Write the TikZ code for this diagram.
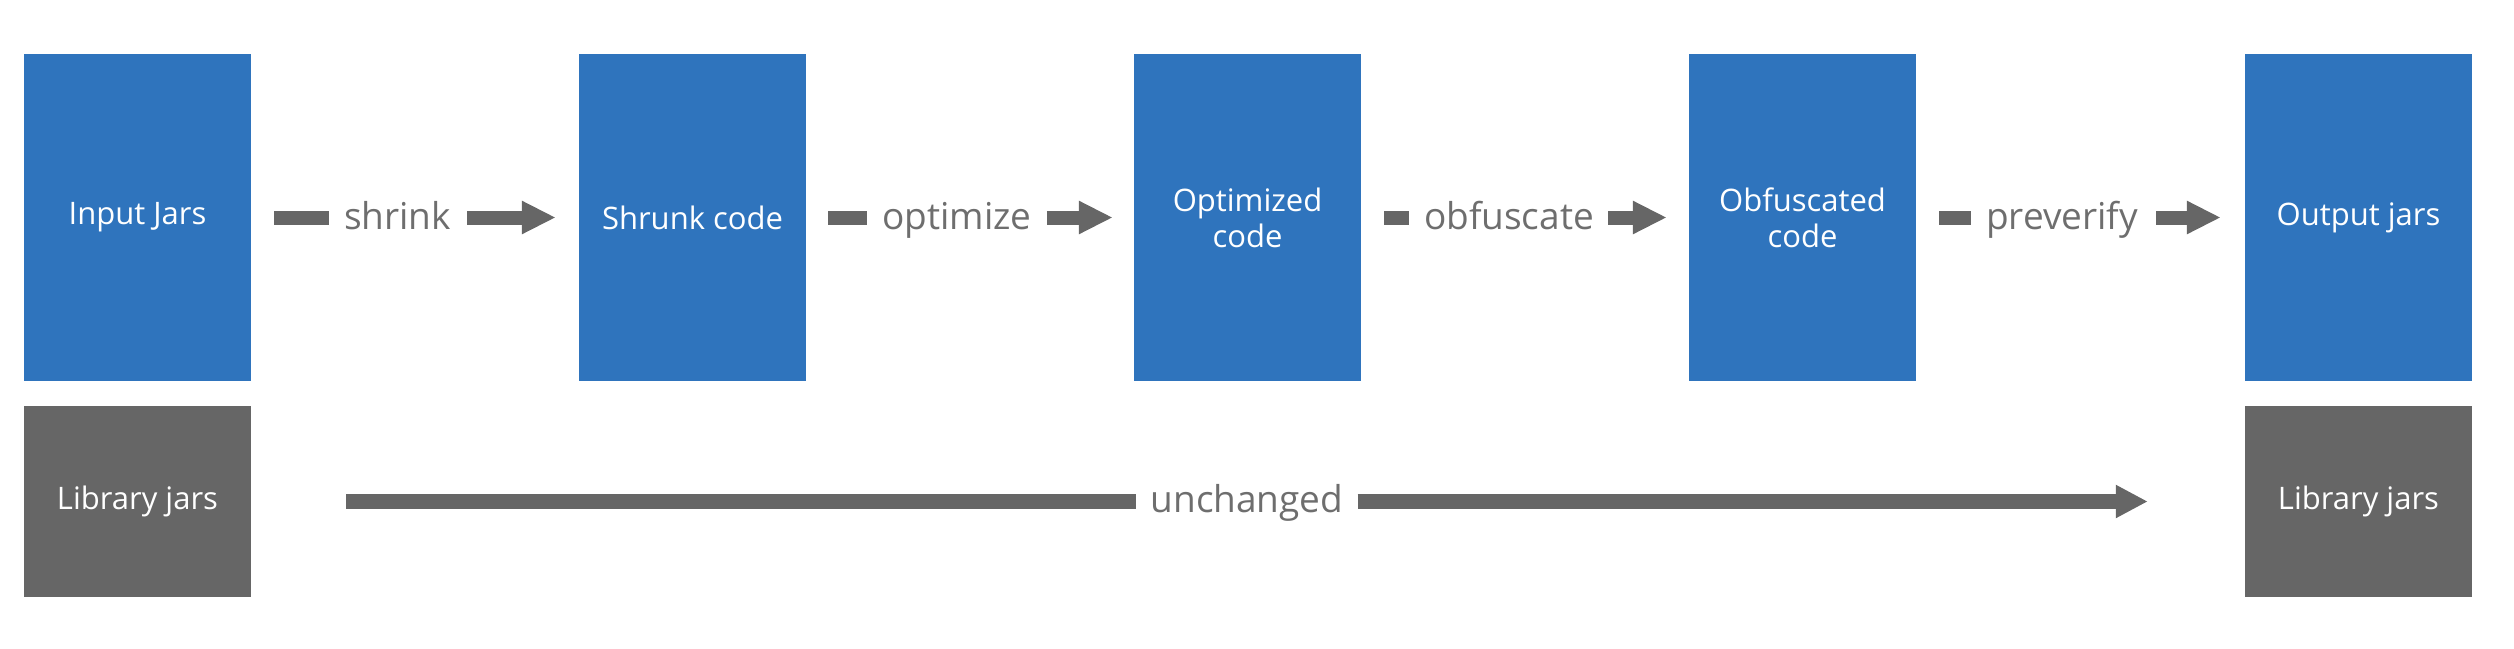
\documentclass[tikz,border=0pt]{standalone}
\usepackage{fontspec}
\setmainfont{Open Sans}
\usetikzlibrary{arrows.meta}
\definecolor{boxblue}{RGB}{47,116,189}
\definecolor{libgray}{RGB}{102,102,102}
\definecolor{lblgray}{RGB}{110,110,110}
\begin{document}
\begin{tikzpicture}[x=1pt,y=-1pt,
  bluebox/.style={fill=boxblue, minimum width=227pt, minimum height=327pt, inner sep=0pt, text=white, align=center, font=\fontsize{31}{36}\selectfont},
  graybox/.style={fill=libgray, minimum width=227pt, minimum height=191pt, inner sep=0pt, text=white, align=center, font=\fontsize{31}{36}\selectfont},
  lbl/.style={text=lblgray, font=\fontsize{37}{40}\selectfont, inner sep=0pt, anchor=base},
  bar/.style={draw=libgray, line width=14pt},
  arr/.style={bar, -{Triangle[length=34pt,width=31pt]}},
  longarr/.style={draw=libgray, line width=15pt, -{Triangle[length=32pt,width=31pt]}}
]
\useasboundingbox (0,0) rectangle (2514,648);
% blue boxes
\node[bluebox] (in)  at (137.5,217.5) {Input Jars};
\node[bluebox] (shr) at (692.5,217.5) {Shrunk code};
\node[bluebox] (opt) at (1247.5,217.5) {Optimized\\code};
\node[bluebox] (obf) at (1802.5,217.5) {Obfuscated\\code};
\node[bluebox] (out) at (2358.5,217.5) {Output jars};
% library boxes
\node[graybox] (lib1) at (137.5,501.5) {Library jars};
\node[graybox] (lib2) at (2358.5,501.5) {Library jars};
% labels
\node[lbl] (l1) at (397.5,229) {shrink};
\node[lbl] (l2) at (957,229) {optimize};
\node[lbl] (l3) at (1509,229) {obfuscate};
\node[lbl] (l4) at (2062,229) {preverify};
\node[lbl] (l5) at (1247,512) {unchanged};
% connectors
\coordinate (a1) at ([xshift=23pt]in.east);
\draw[bar] (a1) -- ([xshift=-15pt]l1.west |- a1);
\draw[arr] ([xshift=16pt]l1.east |- a1) -- ([xshift=-23pt]shr.west);
\coordinate (a2) at ([xshift=22pt]shr.east);
\draw[bar] (a2) -- ([xshift=-15pt]l2.west |- a2);
\draw[arr] ([xshift=15pt]l2.east |- a2) -- ([xshift=-21pt]opt.west);
\coordinate (a3) at ([xshift=23pt]opt.east);
\draw[bar] (a3) -- ([xshift=-15pt]l3.west |- a3);
\draw[arr] ([xshift=14pt]l3.east |- a3) -- ([xshift=-22pt]obf.west);
\coordinate (a4) at ([xshift=23pt]obf.east);
\draw[bar] (a4) -- ([xshift=-15pt]l4.west |- a4);
\draw[arr] ([xshift=18pt]l4.east |- a4) -- ([xshift=-24pt]out.west);
\coordinate (a5) at ([xshift=95pt]lib1.east);
\draw[draw=libgray, line width=15pt] (a5) -- ([xshift=-14pt]l5.west |- a5);
\draw[longarr] ([xshift=14pt]l5.east |- a5) -- ([xshift=-97pt]lib2.west);
\end{tikzpicture}
\end{document}
